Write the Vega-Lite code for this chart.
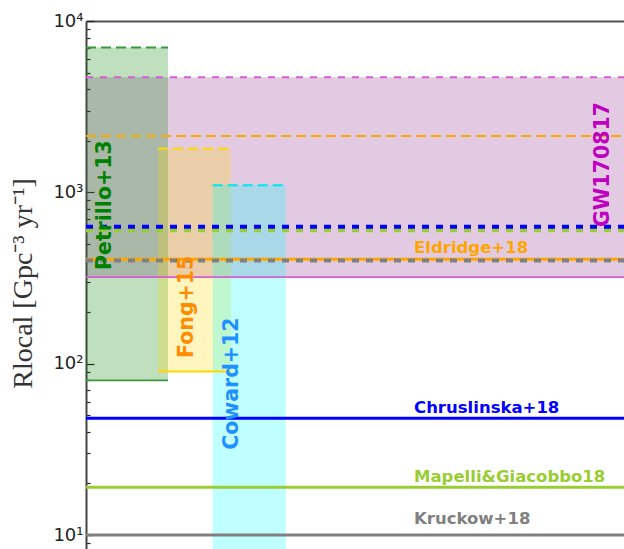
{
  "$schema": "https://vega.github.io/schema/vega-lite/v6.json",
  "autosize": {"type": "none"},
  "padding": {"left": 86, "top": 21, "right": 0, "bottom": 0},
  "width": 538,
  "height": 528,
  "background": "white",
  "config": {"view": {"stroke": null}},
  "datasets": {
    "bands": [
      {"name": "GW170817", "x": 0, "x2": 1, "y": 320, "y2": 4700},
      {"name": "Petrillo+13", "x": 0, "x2": 0.1524, "y": 80, "y2": 7000},
      {"name": "Fong+15", "x": 0.1338, "x2": 0.2695, "y": 90, "y2": 1800},
      {"name": "Coward+12", "x": 0.2355, "x2": 0.3712, "y": 5, "y2": 1100}
    ],
    "lines": [
      {"name": "Petrillo+13", "style": "thin", "x": 0, "x2": 0.1524, "y": 80},
      {"name": "Fong+15", "style": "thin", "x": 0.1338, "x2": 0.2695, "y": 90},
      {"name": "GW170817", "style": "thin", "x": 0, "x2": 1, "y": 320},
      {"name": "Eldridge+18", "style": "solid", "x": 0, "x2": 1, "y": 407},
      {"name": "Chruslinska+18", "style": "solid", "x": 0, "x2": 1, "y": 48},
      {"name": "Mapelli&Giacobbo18", "style": "solid", "x": 0, "x2": 1, "y": 19},
      {"name": "Kruckow+18", "style": "solid", "x": 0, "x2": 1, "y": 10},
      {"name": "Eldridge+18", "style": "dash", "x": 0, "x2": 1, "y": 2130},
      {"name": "Petrillo+13", "style": "dash", "x": 0, "x2": 0.1524, "y": 7000},
      {"name": "Fong+15", "style": "dash", "x": 0.1338, "x2": 0.2695, "y": 1800},
      {"name": "Coward+12", "style": "dash", "x": 0.2355, "x2": 0.3712, "y": 1100},
      {"name": "GW170817", "style": "dash2", "x": 0, "x2": 1, "y": 4700},
      {"name": "Kruckow+18", "style": "dot", "x": 0, "x2": 1, "y": 400},
      {"name": "Mapelli&Giacobbo18", "style": "dot", "x": 0, "x2": 1, "y": 600},
      {"name": "Chruslinska+18", "style": "dot", "x": 0, "x2": 1, "y": 630}
    ],
    "labels": [
      {"name": "Petrillo+13", "kind": "rot", "x": 0.0353, "y": 352},
      {"name": "Fong+15", "kind": "rot", "x": 0.1877, "y": 108},
      {"name": "Coward+12", "kind": "rot", "x": 0.2714, "y": 31.4},
      {"name": "GW170817", "kind": "rot", "x": 0.961, "y": 627},
      {"name": "Eldridge+18", "kind": "hor", "x": 0.6097, "y": 473},
      {"name": "Chruslinska+18", "kind": "hor", "x": 0.6097, "y": 55.2},
      {"name": "Mapelli&Giacobbo18", "kind": "hor", "x": 0.6097, "y": 21.8},
      {"name": "Kruckow+18", "kind": "hor", "x": 0.6097, "y": 12.4}
    ]
  },
  "encoding": {
    "x": {
      "field": "x", "type": "quantitative",
      "scale": {"domain": [0, 1], "nice": false, "zero": false},
      "axis": {"orient": "top", "title": null, "labels": false, "ticks": false, "grid": false, "domain": true, "domainColor": "#555555", "domainWidth": 2}
    },
    "y": {
      "field": "y", "type": "quantitative",
      "scale": {"type": "log", "domain": [8.286, 10000], "nice": false},
      "axis": {
        "title": "Rlocal [Gpc⁻³ yr⁻¹]",
        "titleFont": "Liberation Serif", "titleFontSize": 28, "titleFontWeight": "normal", "titleColor": "#333333",
        "titleAngle": 270, "titleAlign": "center", "titleBaseline": "middle", "titleX": -63, "titleY": 262,
        "values": [9, 10, 20, 30, 40, 50, 60, 70, 80, 90, 100, 200, 300, 400, 500, 600, 700, 800, 900, 1000, 2000, 3000, 4000, 5000, 6000, 7000, 8000, 9000, 10000],
        "labelExpr": "datum.value == 10 ? '10¹' : datum.value == 100 ? '10²' : datum.value == 1000 ? '10³' : datum.value == 10000 ? '10⁴' : ''",
        "labelFont": "DejaVu Sans", "labelFontSize": 18, "labelColor": "#222222", "labelPadding": 11, "labelOverlap": false, "labelFlush": false,
        "tickSize": {"condition": {"test": "datum.value == 10 || datum.value == 100 || datum.value == 1000 || datum.value == 10000", "value": -8}, "value": -4},
        "tickColor": "#222222", "tickWidth": 1.2,
        "grid": false, "domainColor": "#444444", "domainWidth": 2
      }
    }
  },
  "layer": [
    {
      "data": {"name": "bands"},
      "mark": {"type": "rect", "fillOpacity": 0.25, "clip": true},
      "encoding": {
        "x2": {"field": "x2"},
        "y2": {"field": "y2"},
        "fill": {"field": "name", "type": "nominal", "legend": null,
          "scale": {"domain": ["GW170817", "Petrillo+13", "Fong+15", "Coward+12"], "range": ["#8b2f8b", "#008000", "#ffd700", "#00ffff"]}}
      }
    },
    {
      "data": {"name": "lines"},
      "transform": [{"filter": "datum.style == 'thin'"}],
      "mark": {"type": "rule", "strokeWidth": 1.8, "clip": true},
      "encoding": {
        "x2": {"field": "x2"},
        "stroke": {"field": "name", "type": "nominal", "legend": null,
          "scale": {"domain": ["GW170817", "Petrillo+13", "Fong+15", "Coward+12", "Eldridge+18", "Chruslinska+18", "Mapelli&Giacobbo18", "Kruckow+18"],
                    "range": ["#d35fd3", "#3a9a3a", "#ffd700", "#00e5ee", "#ffa500", "#0000ff", "#9acd32", "#808080"]}}
      }
    },
    {
      "data": {"name": "lines"},
      "transform": [{"filter": "datum.style == 'solid'"}],
      "mark": {"type": "rule", "strokeWidth": 3, "clip": true},
      "encoding": {
        "x2": {"field": "x2"},
        "stroke": {"field": "name", "type": "nominal", "legend": null,
          "scale": {"domain": ["GW170817", "Petrillo+13", "Fong+15", "Coward+12", "Eldridge+18", "Chruslinska+18", "Mapelli&Giacobbo18", "Kruckow+18"],
                    "range": ["#d35fd3", "#3a9a3a", "#ffd700", "#00e5ee", "#ffa500", "#0000ff", "#9acd32", "#808080"]}}
      }
    },
    {
      "data": {"name": "lines"},
      "transform": [{"filter": "datum.style == 'dash'"}],
      "mark": {"type": "rule", "strokeWidth": 2, "strokeDash": [10, 5], "clip": true},
      "encoding": {
        "x2": {"field": "x2"},
        "stroke": {"field": "name", "type": "nominal", "legend": null,
          "scale": {"domain": ["GW170817", "Petrillo+13", "Fong+15", "Coward+12", "Eldridge+18", "Chruslinska+18", "Mapelli&Giacobbo18", "Kruckow+18"],
                    "range": ["#d35fd3", "#3a9a3a", "#ffd700", "#00e5ee", "#ffa500", "#0000ff", "#9acd32", "#808080"]}}
      }
    },
    {
      "data": {"name": "lines"},
      "transform": [{"filter": "datum.style == 'dash2'"}],
      "mark": {"type": "rule", "strokeWidth": 2, "strokeDash": [7, 7], "clip": true},
      "encoding": {
        "x2": {"field": "x2"},
        "stroke": {"field": "name", "type": "nominal", "legend": null,
          "scale": {"domain": ["GW170817", "Petrillo+13", "Fong+15", "Coward+12", "Eldridge+18", "Chruslinska+18", "Mapelli&Giacobbo18", "Kruckow+18"],
                    "range": ["#d35fd3", "#3a9a3a", "#ffd700", "#00e5ee", "#ffa500", "#0000ff", "#9acd32", "#808080"]}}
      }
    },
    {
      "data": {"name": "lines"},
      "transform": [{"filter": "datum.style == 'dot'"}],
      "mark": {"type": "rule", "strokeWidth": 4, "strokeDash": [7, 7], "clip": true},
      "encoding": {
        "x2": {"field": "x2"},
        "stroke": {"field": "name", "type": "nominal", "legend": null,
          "scale": {"domain": ["GW170817", "Petrillo+13", "Fong+15", "Coward+12", "Eldridge+18", "Chruslinska+18", "Mapelli&Giacobbo18", "Kruckow+18"],
                    "range": ["#d35fd3", "#3a9a3a", "#ffd700", "#00e5ee", "#ffa500", "#0000ff", "#9acd32", "#808080"]}}
      }
    },
    {
      "data": {"name": "labels"},
      "transform": [{"filter": "datum.kind == 'rot'"}],
      "mark": {"type": "text", "angle": 270, "align": "left", "baseline": "middle", "font": "DejaVu Sans", "fontWeight": "bold", "fontSize": 20.5},
      "encoding": {
        "text": {"field": "name"},
        "color": {"field": "name", "type": "nominal", "legend": null,
          "scale": {"domain": ["GW170817", "Petrillo+13", "Fong+15", "Coward+12", "Eldridge+18", "Chruslinska+18", "Mapelli&Giacobbo18", "Kruckow+18"],
                    "range": ["#bf00bf", "#008000", "#ff8c00", "#1e90ff", "#ffa500", "#0000ff", "#9acd32", "#808080"]}}
      }
    },
    {
      "data": {"name": "labels"},
      "transform": [{"filter": "datum.kind == 'hor'"}],
      "mark": {"type": "text", "align": "left", "baseline": "middle", "font": "DejaVu Sans", "fontWeight": "bold", "fontSize": 16.5},
      "encoding": {
        "text": {"field": "name"},
        "color": {"field": "name", "type": "nominal", "legend": null,
          "scale": {"domain": ["GW170817", "Petrillo+13", "Fong+15", "Coward+12", "Eldridge+18", "Chruslinska+18", "Mapelli&Giacobbo18", "Kruckow+18"],
                    "range": ["#bf00bf", "#008000", "#ff8c00", "#1e90ff", "#ffa500", "#0000ff", "#9acd32", "#808080"]}}
      }
    }
  ]
}
